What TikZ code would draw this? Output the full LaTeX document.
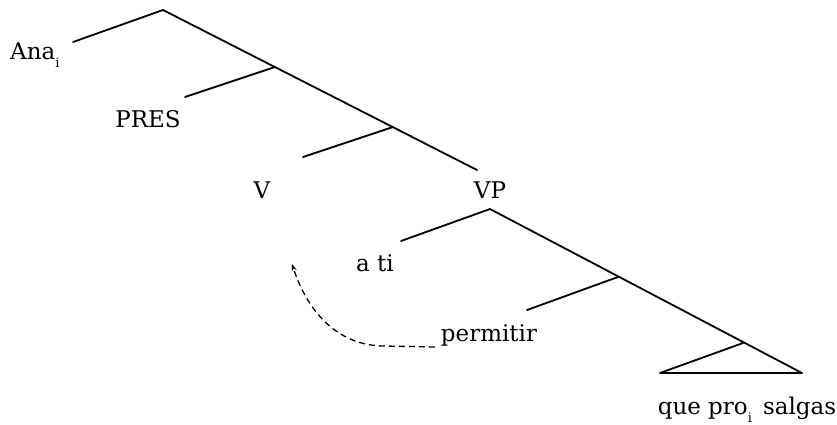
\documentclass[tikz,border=0pt]{standalone}
\usepackage{fontspec}
\setmainfont{DejaVu Serif}
\usetikzlibrary{arrows.meta}
\newcommand\lowsub[1]{\raisebox{-8pt}{\fontsize{13}{13}\selectfont #1}}

\begin{document}
\begin{tikzpicture}[
  x=1pt,y=-1pt,
  branch/.style={draw=black,line width=1.8pt,line cap=round,line join=round},
  move/.style={-{Stealth[length=7pt,width=5pt]},draw=black,line width=1.3pt,dash pattern=on 6pt off 4pt},
  word/.style={font=\fontsize{23}{27}\selectfont,inner sep=0pt,anchor=base},
]
\useasboundingbox (0,0) rectangle (837,424);
\coordinate (root) at (163,10);
\coordinate (anaEnd) at (73,42);
\coordinate (j1) at (275,67);
\coordinate (presEnd) at (185,97);
\coordinate (j2) at (393,127);
\coordinate (vEnd) at (303,157);
\coordinate (vpEnd) at (477,170);
\coordinate (vpTop) at (490,209);
\coordinate (atiEnd) at (401,241);
\coordinate (j3) at (618,277);
\coordinate (permEnd) at (527,310);
\coordinate (j4) at (743,343);
\coordinate (triL) at (660,373);
\coordinate (triR) at (802,373);
\coordinate (tip) at (292,264);
\node[word,anchor=base west] (ana) at (10,59) {Ana\lowsub{i}};
\node[word] (pres) at (148,127) {PRES};
\node[word] (v) at (262,198) {V};
\node[word] (vp) at (490,198) {VP};
\node[word] (ati) at (375,271) {a ti};
\node[word] (perm) at (489,341) {permitir};
\node[word] (que) at (747,414) {que pro\lowsub{i}\ \,salgas};
\draw[branch] (anaEnd) -- (root) -- (vpEnd);
\draw[branch] (atiEnd) -- (vpTop) -- (triR) -- (triL) -- (j4);
\foreach \a/\b in {j1/presEnd,j2/vEnd,j3/permEnd}{\draw[branch] (\a) -- (\b);}
\draw[move] ([xshift=-6pt,yshift=-6pt]perm.base west) -- ++(-50,-1) to[out=180,in=-72] (tip);
\end{tikzpicture}
\end{document}
